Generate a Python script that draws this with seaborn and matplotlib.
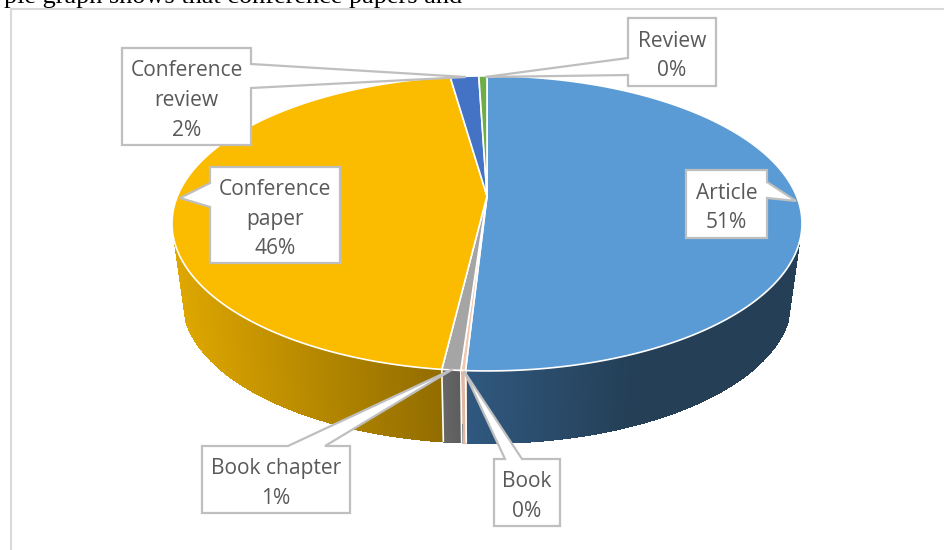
import numpy as np
import matplotlib
matplotlib.use("Agg")
import matplotlib.pyplot as plt
from matplotlib.collections import PolyCollection
from matplotlib.patches import Polygon
import seaborn as sns

#### data
categories = ["Article", "Book", "Book chapter", "Conference paper", "Conference review", "Review"]
shares = [50.9, 0.2, 0.8, 45.85, 1.75, 0.5]
label_texts = ["Article\n51%", "Book\n0%", "Book chapter\n1%", "Conference\npaper\n46%", "Conference\nreview\n2%", "Review\n0%"]

#### colours
top_colors = ["#5b9bd5", "#f0c8b0", "#a5a5a5", "#fbbc00", "#4472c4", "#70ad47"]
side_light = ["#30587f", "#e0b7a0", "#666666", "#dda600", "#2f5597", "#4e7a31"]
side_dark = ["#243f56", "#e0b7a0", "#5c5c5c", "#916c00", "#2f5597", "#4e7a31"]

#### pie geometry (pixels)
CX, APEX_Y = 487, 196
RX, RY, PERSP = 309.5, 142.4, 0.186
DEPTH, SHRINK = 78.1, 0.965
WALL_CUT = 0.33  # wall stops this far below the widest point of the rim

# callout boxes: left, right, top, bottom, pointer base (2 points), tip
callouts = [
    (686, 767, 170, 238, (767, 182), (767, 198), (796, 201)),
    (494, 560, 459, 526, (505, 459), (522, 459), (464, 371)),
    (202, 350, 446, 513, (288, 446), (325, 446), (453, 369)),
    (210, 340, 167, 263, (210, 207), (210, 183), (180, 198)),
    (122, 251, 48, 145, (251, 64), (251, 88), (466, 77)),
    (628, 716, 18, 86, (628, 75), (628, 58), (485, 77)),
]


def top_xy(theta):
    # theta clockwise from 12 o'clock, perspective on a unit circle
    u, v = np.sin(theta), np.cos(theta)
    w = 1 + PERSP * v
    return CX + RX * u / w, APEX_Y - RY * v / w


def low_xy(theta):
    x, y = top_xy(theta)
    return CX + SHRINK * (x - CX), APEX_Y + DEPTH + SHRINK * (y - APEX_Y)


sns.set_theme(style="white")
fig = plt.figure(figsize=(9.44, 5.5), dpi=100)
ax = fig.add_axes([0, 0, 1, 1])
ax.set_xlim(0, 944)
ax.set_ylim(550, 0)
ax.axis("off")

# page text and chart frame
ax.text(4, 3.5, "pie graph shows that conference papers and", family="Liberation Serif",
        fontsize=18.9, color="black", va="baseline", ha="left")
ax.plot([10.5, 10.5, 944], [550, 9, 9], color="#d9d9d9", lw=1.5, solid_joinstyle="miter")

edges = np.cumsum([0] + shares) / sum(shares) * 2 * np.pi

# side wall, front part only, with a horizontal gradient
for i in range(len(shares)):
    a0, a1 = max(edges[i], np.pi / 2 + WALL_CUT), min(edges[i + 1], 3 * np.pi / 2 - WALL_CUT)
    if a1 <= a0:
        continue
    t = np.linspace(a0, a1, 300)
    xt, yt = top_xy(t)
    xl, yl = low_xy(t)
    quads = [[(xt[j], yt[j]), (xt[j + 1], yt[j + 1]), (xl[j + 1], yl[j + 1]), (xl[j], yl[j])]
             for j in range(len(t) - 1)]
    pal = sns.blend_palette([side_light[i], side_dark[i]], 256)
    if i == 0:
        # article wall reaches its darkest shade well before the rim
        order = np.clip((xt[:-1] - xt.min()) / 170, 0, 1)
    else:
        order = (xt[:-1] - xt.min()) / max(xt.max() - xt.min(), 1)
    colors = [pal[int(o * 255)] for o in order]
    ax.add_collection(PolyCollection(quads, facecolors=colors, edgecolors=colors, lw=0.8,
                                     antialiased=False, zorder=2))
    # light seam between the wall segments
    if edges[i + 1] < 3 * np.pi / 2:
        xa, ya = top_xy(edges[i + 1])
        xb, yb = low_xy(edges[i + 1])
        ax.plot([xa, xb], [ya, yb], color="white", lw=1.2, zorder=3)

# top face
for i in range(len(shares)):
    t = np.linspace(edges[i], edges[i + 1], 200)
    xs, ys = top_xy(t)
    pts = np.column_stack([np.r_[CX, xs], np.r_[APEX_Y, ys]])
    ax.add_patch(Polygon(pts, closed=True, facecolor=top_colors[i], edgecolor="white", lw=1.2, zorder=4))

# callouts
for i, (l, r, t, b, p0, p1, tip) in enumerate(callouts):
    # walk round the box and cut in the pointer on the side it leaves from
    if p0[1] == t and p1[1] == t:
        pts = [(l, t), p0, tip, p1, (r, t), (r, b), (l, b)]
    elif p0[0] == r:
        pts = [(l, t), (r, t), p0, tip, p1, (r, b), (l, b)]
    else:
        pts = [(l, t), (r, t), (r, b), (l, b), p0, tip, p1]
    ax.add_patch(Polygon(pts, closed=True, facecolor="white", edgecolor="#bfbfbf", lw=1.6,
                         joinstyle="miter", zorder=5))
    ax.text((l + r) / 2, (t + b) / 2 + 4, label_texts[i], ha="center", va="center", family="Open Sans",
            fontsize=15.1, color="#595959", linespacing=1.55, zorder=6)

fig.savefig("out.png", dpi=100)
plt.close()
